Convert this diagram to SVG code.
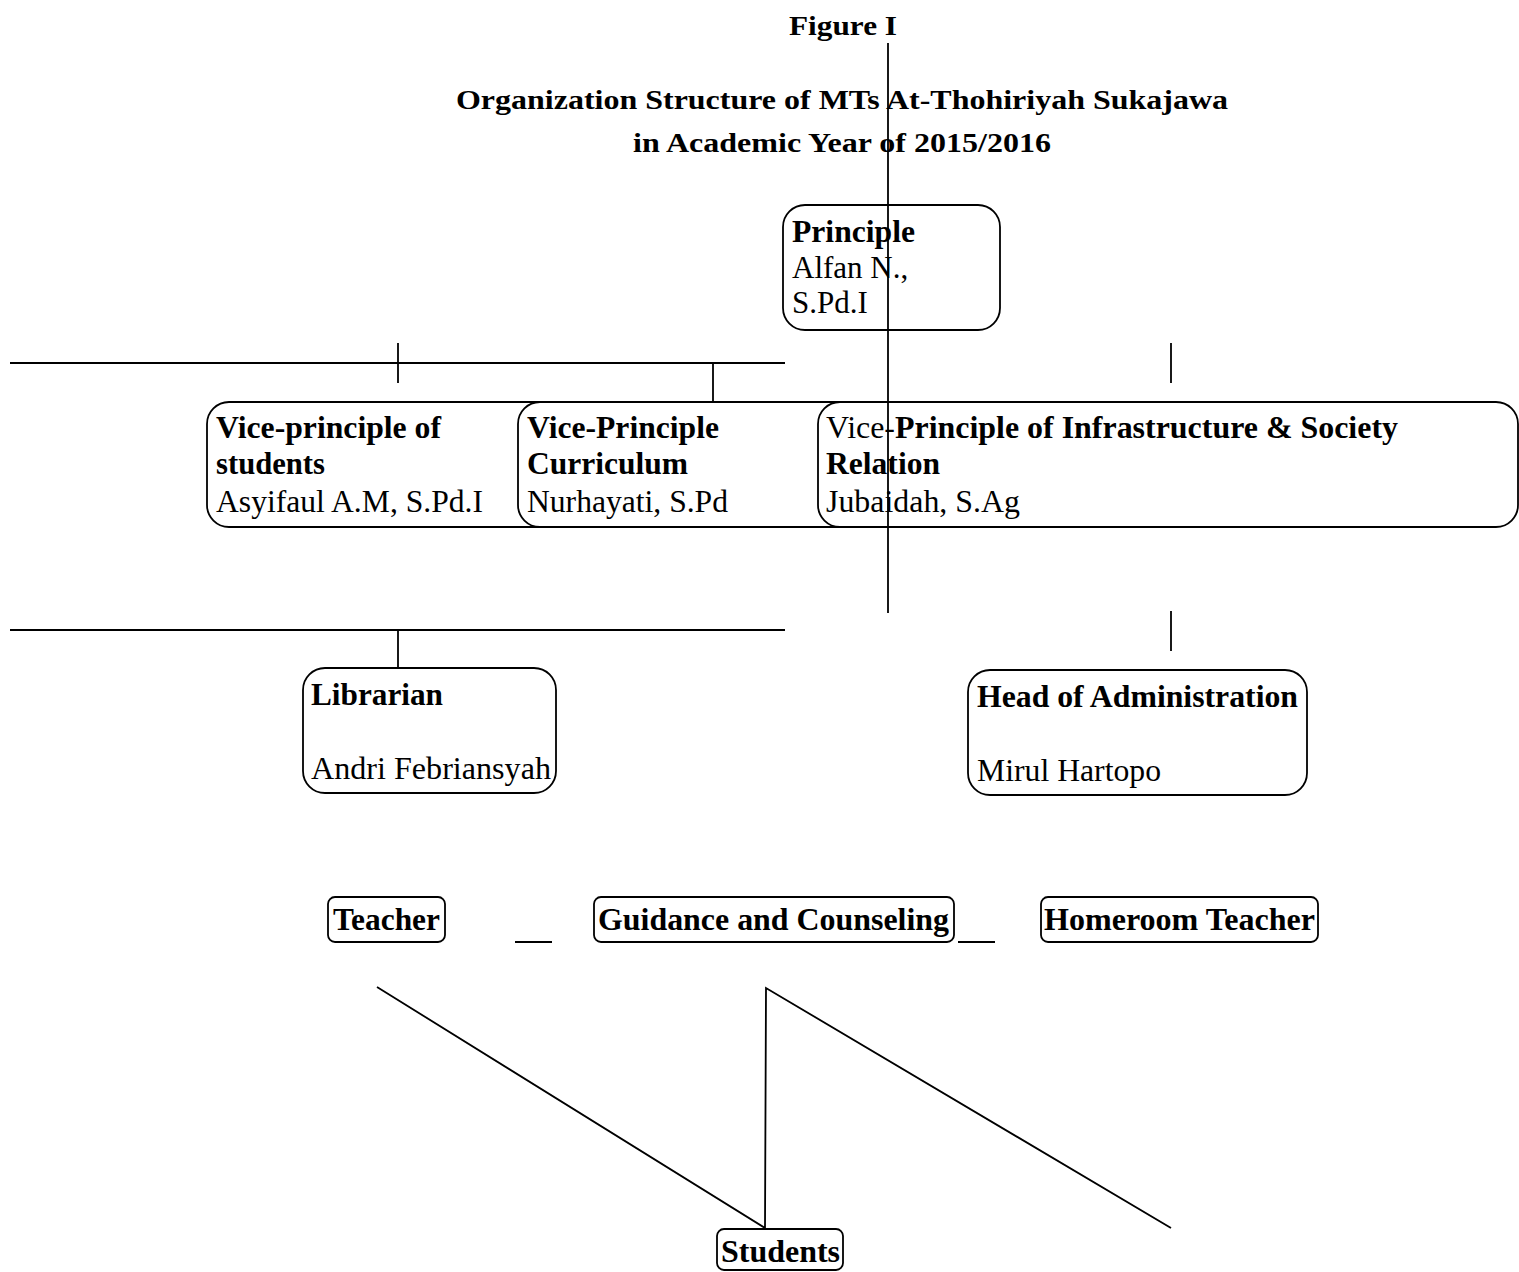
<svg xmlns="http://www.w3.org/2000/svg" width="1519" height="1272" viewBox="0 0 1519 1272">
<style>
.b{font-weight:bold}
.t{font-size:27px}
.n{font-size:31px}
.s{font-size:31px}
.box{fill:#fff;stroke:#000;stroke-width:1.8}
.ln{stroke:#000;stroke-width:1.8;fill:none}
</style>
<rect width="1519" height="1272" fill="#fff"/>
<g font-family="Liberation Serif, Times New Roman, serif" fill="#000">
<g id="title">
<text class="b t" x="789" y="35" textLength="108" lengthAdjust="spacingAndGlyphs">Figure I</text>
<text class="b t" x="456" y="109" textLength="772" lengthAdjust="spacingAndGlyphs">Organization Structure of MTs At-Thohiriyah Sukajawa</text>
<text class="b t" x="633" y="152" textLength="418" lengthAdjust="spacingAndGlyphs">in Academic Year of 2015/2016</text>
</g>
<g id="connectors-back">
<line class="ln" x1="10" y1="363" x2="785" y2="363"/>
<line class="ln" x1="398" y1="343" x2="398" y2="383"/>
<line class="ln" x1="713" y1="363" x2="713" y2="402"/>
<line class="ln" x1="1171" y1="343" x2="1171" y2="383"/>
<line class="ln" x1="10" y1="630" x2="785" y2="630"/>
<line class="ln" x1="398" y1="630" x2="398" y2="668"/>
<line class="ln" x1="1171" y1="611" x2="1171" y2="651"/>
</g>
<g id="principal">
<rect class="box" x="783" y="205" width="217" height="125" rx="22"/>
<text class="b n" x="792" y="242" textLength="123" lengthAdjust="spacingAndGlyphs">Principle</text>
<text class="n" x="792" y="278">Alfan N.,</text>
<text class="n" x="792" y="313">S.Pd.I</text>
</g>
<g id="vp-students">
<rect class="box" x="207" y="402" width="360" height="125" rx="22"/>
<text class="b s" x="216" y="438" textLength="225" lengthAdjust="spacingAndGlyphs">Vice-principle of</text>
<text class="b s" x="216" y="474" textLength="109" lengthAdjust="spacingAndGlyphs">students</text>
<text class="s" x="216" y="512" textLength="267" lengthAdjust="spacingAndGlyphs">Asyifaul A.M, S.Pd.I</text>
</g>
<g id="vp-curriculum">
<rect class="box" x="518" y="402" width="360" height="125" rx="22"/>
<text class="b s" x="527" y="438" textLength="192" lengthAdjust="spacingAndGlyphs">Vice-Principle</text>
<text class="b s" x="527" y="474" textLength="161" lengthAdjust="spacingAndGlyphs">Curriculum</text>
<text class="s" x="527" y="512" textLength="201" lengthAdjust="spacingAndGlyphs">Nurhayati, S.Pd</text>
</g>
<g id="vp-infrastructure">
<rect class="box" x="818" y="402" width="700" height="125" rx="22"/>
<text class="b s" x="826" y="438" textLength="572" lengthAdjust="spacingAndGlyphs"><tspan font-weight="normal">Vice-</tspan>Principle of Infrastructure &amp; Society</text>
<text class="b s" x="826" y="474" textLength="114" lengthAdjust="spacingAndGlyphs">Relation</text>
<text class="s" x="826" y="512" textLength="194" lengthAdjust="spacingAndGlyphs">Jubaidah, S.Ag</text>
</g>
<g id="librarian">
<rect class="box" x="303" y="668" width="253" height="125" rx="22"/>
<text class="b n" x="311" y="705" textLength="132" lengthAdjust="spacingAndGlyphs">Librarian</text>
<text class="n" x="311" y="779" textLength="240" lengthAdjust="spacingAndGlyphs">Andri Febriansyah</text>
</g>
<g id="head-admin">
<rect class="box" x="968" y="670" width="339" height="125" rx="22"/>
<text class="b n" x="977" y="707" textLength="321" lengthAdjust="spacingAndGlyphs">Head of Administration</text>
<text class="n" x="977" y="781" textLength="184" lengthAdjust="spacingAndGlyphs">Mirul Hartopo</text>
</g>
<g id="teacher">
<rect class="box" x="328" y="897" width="117" height="45" rx="7"/>
<text class="b n" x="333" y="930" textLength="107" lengthAdjust="spacingAndGlyphs">Teacher</text>
</g>
<g id="guidance">
<rect class="box" x="594" y="897" width="360" height="45" rx="7"/>
<text class="b n" x="598" y="930" textLength="351" lengthAdjust="spacingAndGlyphs">Guidance and Counseling</text>
</g>
<g id="homeroom">
<rect class="box" x="1041" y="897" width="277" height="45" rx="7"/>
<text class="b n" x="1044" y="930" textLength="271" lengthAdjust="spacingAndGlyphs">Homeroom Teacher</text>
</g>
<g id="students">
<rect class="box" x="717" y="1229" width="126" height="41" rx="7"/>
<text class="b n" x="721" y="1262" textLength="119" lengthAdjust="spacingAndGlyphs">Students</text>
</g>
<g id="connectors">
<line class="ln" x1="888" y1="43" x2="888" y2="613"/>
<line class="ln" x1="515" y1="942" x2="552" y2="942"/>
<line class="ln" x1="958" y1="942" x2="995" y2="942"/>
<polyline class="ln" points="377,987 765,1228 766,988 1171,1228"/>
</g>
</g>
</svg>
